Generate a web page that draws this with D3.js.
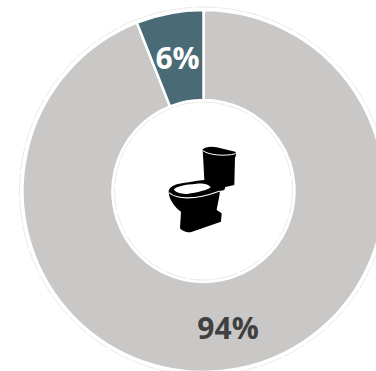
<!DOCTYPE html>
<html><head><meta charset="utf-8">
<script src="https://cdn.jsdelivr.net/npm/d3@7/dist/d3.min.js"></script>
<style>html,body{margin:0;padding:0;background:#fff;overflow:hidden}svg{display:block}</style>
</head><body>
<script>
const categories = ["Other", "Toilets"];
const shares = [94, 6];
const labels = ["94%", "6%"];
const sliceColors = ["#c9c8c6", "#4a6b75"];
const labelColors = ["#404040", "#ffffff"];

const width = 376, height = 371;
const cx = 203.5, cy = 191;
const outerR = 181, innerR = 91;

const svg = d3.select("body").append("svg").attr("width", width).attr("height", height);
const chart = svg.append("g").attr("transform", `translate(${cx},${cy})`);

// Largest slice runs clockwise from the top, the small one closes the circle.
const pie = d3.pie().sort(null).value(d => d)(shares);
const arc = d3.arc().innerRadius(innerR).outerRadius(outerR);

chart.selectAll("path.slice").data(pie).join("path")
  .attr("class", "slice")
  .attr("d", arc)
  .attr("fill", (d, i) => sliceColors[i])
  .attr("stroke", "#fff")
  .attr("stroke-width", 2.5);

// Hairline rings just outside and inside the band.
chart.selectAll("circle.ring").data([outerR + 3, innerR - 2]).join("circle")
  .attr("class", "ring")
  .attr("r", d => d)
  .attr("fill", "none")
  .attr("stroke", "#d4d3d1")
  .attr("stroke-width", 0.5)
  .attr("stroke-dasharray", "24 2");

// Percentage labels.
const labelPos = [[24.5, 148], [-26, -122]];
chart.selectAll("text.value").data(labels).join("text")
  .attr("class", "value")
  .attr("x", (d, i) => labelPos[i][0])
  .attr("y", (d, i) => labelPos[i][1])
  .attr("text-anchor", "middle")
  .attr("font-family", "'Open Sans', sans-serif")
  .attr("font-weight", 700)
  .attr("font-size", 30)
  .attr("fill", (d, i) => labelColors[i])
  .text(d => d);

// Toilet pictogram in the hole.
const icon = svg.append("g").attr("transform", "translate(100,90) scale(0.3333)");
icon.append("path").attr("fill", "#000").attr("d",
  "M308 178 C315 170 335 168 350 172 L406 185 C410 190 408 198 405 203 L403 285 L376 291 L373 300 " +
  "L360 303 C358 325 352 345 350 360 L365 370 L363 395 L272 427 C258 428 245 422 240 415 L243 365 " +
  "C225 352 208 330 206 308 C205 295 215 288 230 283 C255 278 285 273 313 270 L309 195 Z");
icon.append("path").attr("fill", "#fff").attr("d",
  "M222 298 C230 288 255 284 290 281 C310 279 328 284 332 292 C325 300 290 308 262 312 C240 313 224 306 222 298 Z");
icon.append("path").attr("fill", "none").attr("stroke", "#fff").attr("stroke-width", 3.5).attr("d",
  "M207 308 C230 328 280 332 360 303");
icon.append("path").attr("fill", "none").attr("stroke", "#fff").attr("stroke-width", 3).attr("d",
  "M309 182 C325 195 375 200 407 191");
</script>
</body></html>
